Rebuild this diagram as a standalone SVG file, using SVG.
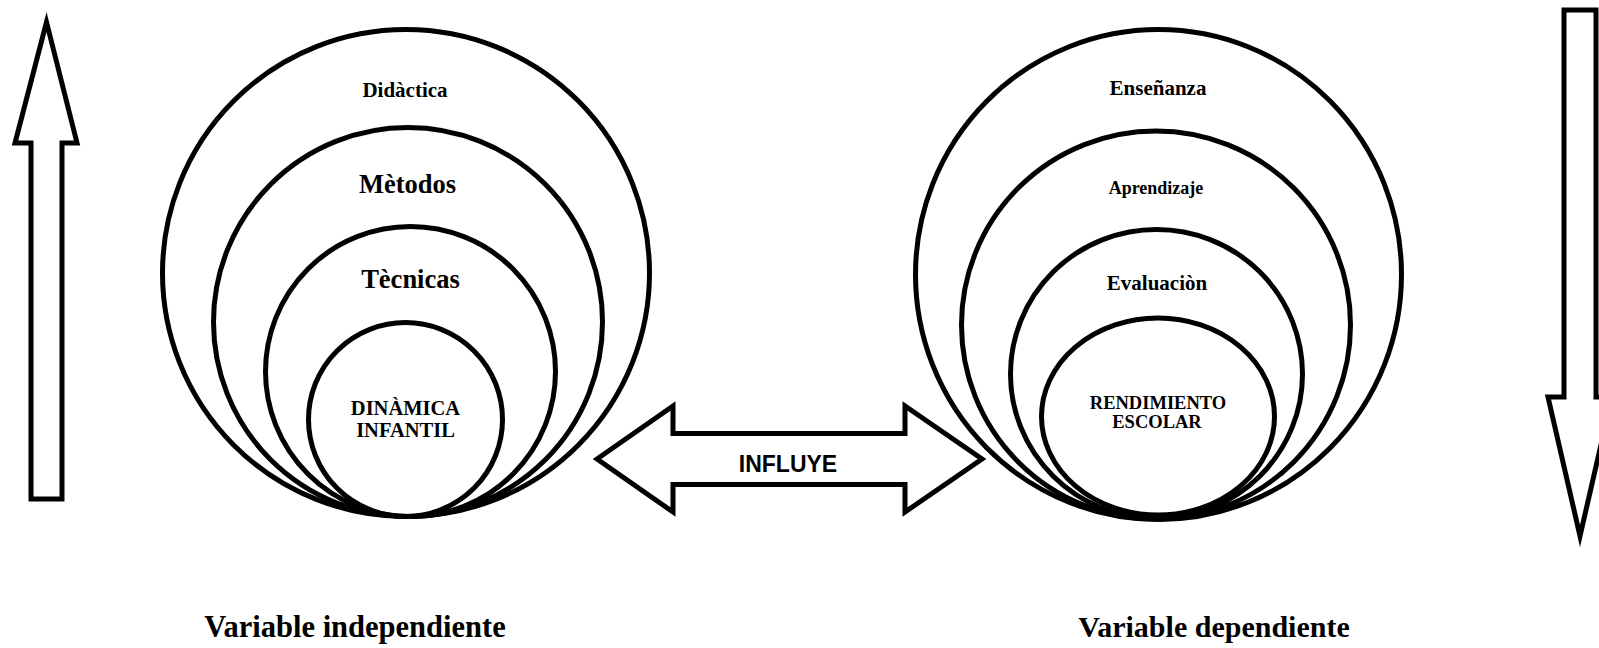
<svg xmlns="http://www.w3.org/2000/svg" width="1599" height="648" viewBox="0 0 1599 648">
<style>
.ring{fill:none;stroke:#000;stroke-width:5}
.arrow{fill:#fff;stroke:#000;stroke-width:5;stroke-miterlimit:12;stroke-linejoin:miter}
.lbl{font-family:"Liberation Serif","Times New Roman",serif;font-weight:bold;fill:#000;text-anchor:middle}
.inf{font-family:"Liberation Sans",Arial,sans-serif;font-weight:bold;fill:#000;text-anchor:middle}
</style>
<rect width="1599" height="648" fill="#fff"/>
<g id="arrow-up">
<polygon class="arrow" points="46.5,22 77,143 62,143 62,499 31,499 31,143 15,143"/>
</g>
<g id="arrow-down">
<polygon class="arrow" points="1564,10 1596,10 1596,397 1612,397 1580,536 1548,397 1564,397"/>
</g>
<g id="independiente">
<ellipse id="didactica" class="ring" cx="406" cy="273" rx="243.5" ry="243.5"/>
<ellipse id="metodos" class="ring" cx="408" cy="322" rx="194.5" ry="194.5"/>
<ellipse id="tecnicas" class="ring" cx="410.5" cy="371.5" rx="145" ry="145"/>
<ellipse id="dinamica" class="ring" cx="405.5" cy="419.5" rx="97" ry="97"/>
<text class="lbl" x="405" y="97" font-size="21">Didàctica</text>
<text class="lbl" x="407.5" y="193" font-size="26.5">Mètodos</text>
<text class="lbl" x="410.5" y="288" font-size="26.5">Tècnicas</text>
<text class="lbl" x="405.5" y="415" font-size="20.5">DINÀMICA</text>
<text class="lbl" x="405.5" y="437" font-size="20.5">INFANTIL</text>
</g>
<g id="dependiente">
<ellipse id="ensenanza" class="ring" cx="1158.5" cy="274.5" rx="243" ry="245"/>
<ellipse id="aprendizaje" class="ring" cx="1156" cy="325" rx="194.5" ry="194"/>
<ellipse id="evaluacion" class="ring" cx="1156.5" cy="374" rx="146" ry="144.5"/>
<ellipse id="rendimiento" class="ring" cx="1158" cy="416.5" rx="116.5" ry="98.5"/>
<text class="lbl" x="1158" y="95" font-size="21">Enseñanza</text>
<text class="lbl" x="1156" y="194" font-size="18">Aprendizaje</text>
<text class="lbl" x="1157" y="290" font-size="21">Evaluaciòn</text>
<text class="lbl" x="1158" y="409" font-size="18.5">RENDIMIENTO</text>
<text class="lbl" x="1157" y="428" font-size="18.5">ESCOLAR</text>
</g>
<g id="connectors">
<g id="influye">
<polygon class="arrow" points="597,459 673,406 673,433.5 905,433.5 905,406 982,459 905,512 905,484.5 673,484.5 673,512"/>
<text class="inf" x="788" y="472" font-size="23">INFLUYE</text>
</g>
</g>
<text class="lbl" x="355" y="637" font-size="30.5">Variable independiente</text>
<text class="lbl" x="1214" y="637" font-size="30">Variable dependiente</text>
</svg>
